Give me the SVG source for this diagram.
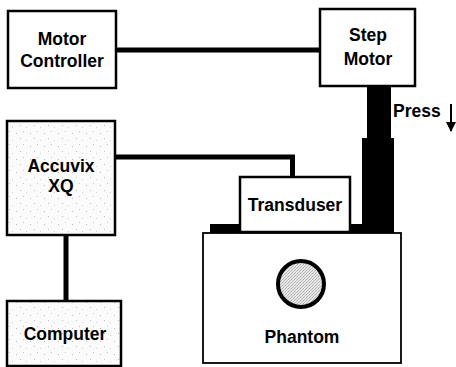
<svg xmlns="http://www.w3.org/2000/svg" width="456" height="367" viewBox="0 0 456 367">
<defs>
<pattern id="speck" width="14" height="13" patternUnits="userSpaceOnUse">
<rect width="14" height="13" fill="#fbfbfb"/>
<rect x="2" y="3" width="1" height="1" fill="#b8b8b8"/>
<rect x="9" y="1" width="1" height="1" fill="#c8c8c8"/>
<rect x="6" y="8" width="1" height="1" fill="#bcbcbc"/>
<rect x="12" y="10" width="1" height="1" fill="#d0d0d0"/>
</pattern>
<pattern id="stip" width="3" height="3" patternUnits="userSpaceOnUse">
<rect width="3" height="3" fill="#e8e8e8"/>
<rect x="0" y="0" width="1" height="1" fill="#a8a8a8"/>
<rect x="2" y="1" width="1" height="1" fill="#bababa"/>
<rect x="1" y="2" width="1" height="1" fill="#b4b4b4"/>
</pattern>
<marker id="ah" markerWidth="10" markerHeight="10" refX="9" refY="5" orient="auto" markerUnits="userSpaceOnUse" viewBox="0 0 10 10">
<path d="M0,0 L10,5 L0,10 Z" fill="#000"/>
</marker>
</defs>
<style>
.box{fill:#fff;stroke:#000;stroke-width:2.5}
.lbl{font-family:"Liberation Sans",Arial,sans-serif;font-weight:bold;font-size:17.5px;fill:#000;text-anchor:middle}
.wire{fill:none;stroke:#000;stroke-width:5}
</style>
<rect width="456" height="367" fill="#fff"/>
<g id="connectors">
<line class="wire" x1="116" y1="50" x2="320" y2="50"/>
<path class="wire" d="M115,157 H292.5 V177"/>
<line class="wire" x1="66" y1="235" x2="66" y2="301"/>
</g>
<g id="phantom">
<rect x="203" y="233" width="198" height="130" fill="#fff" stroke="#000" stroke-width="1.8"/>
<circle cx="301" cy="284" r="23" fill="url(#stip)" stroke="#000" stroke-width="4"/>
<text class="lbl" x="302" y="343">Phantom</text>
</g>
<g id="press-rod">
<rect x="367" y="86" width="24" height="53" fill="#000"/>
<rect x="362" y="138" width="32" height="95" fill="#000"/>
<rect x="210" y="224" width="31" height="9" fill="#000"/>
<rect x="349" y="224" width="15" height="9" fill="#000"/>
</g>
<g id="motor-controller">
<rect class="box" x="8" y="11" width="108" height="77"/>
<text class="lbl" x="62" y="45">Motor</text>
<text class="lbl" x="62" y="67">Controller</text>
</g>
<g id="step-motor">
<rect class="box" x="320" y="9" width="95" height="77"/>
<text class="lbl" x="368" y="41">Step</text>
<text class="lbl" x="368" y="65">Motor</text>
</g>
<g id="press">
<text class="lbl" x="393" y="117" style="text-anchor:start">Press</text>
<line x1="451" y1="104" x2="451" y2="131" stroke="#000" stroke-width="2" marker-end="url(#ah)"/>
</g>
<g id="accuvix">
<rect x="7" y="121" width="108" height="114" fill="url(#speck)" stroke="#000" stroke-width="2.5"/>
<text class="lbl" x="61" y="172">Accuvix</text>
<text class="lbl" x="61" y="192">XQ</text>
</g>
<g id="transduser">
<rect class="box" x="240" y="177" width="110" height="55"/>
<text class="lbl" x="295" y="211">Transduser</text>
</g>
<g id="computer">
<rect x="7" y="301" width="114" height="65" fill="url(#speck)" stroke="#000" stroke-width="2.5"/>
<text class="lbl" x="65" y="340">Computer</text>
</g>
</svg>
